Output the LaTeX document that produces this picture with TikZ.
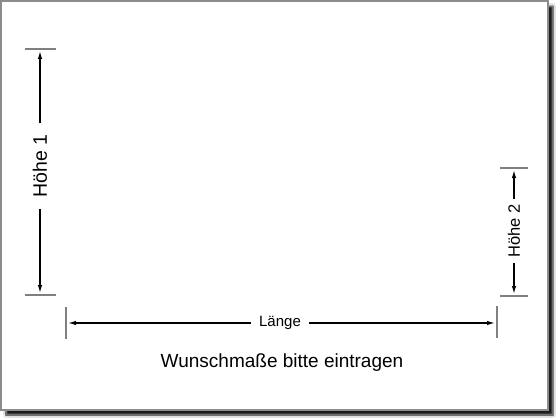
\documentclass[tikz,border=0pt]{standalone}
\usepackage{fontspec}
\setmainfont{Liberation Sans}
\usetikzlibrary{shadows.blur,arrows.meta}

\tikzset{
	tick/.style={gray, line width=1.1pt},
	dimline/.style={black, line width=1.3pt},
	dimlabel/.style={inner xsep=10pt, inner ysep=2pt}
}

\begin{document}
\begin{tikzpicture}[x=1pt, y=-1pt, >={Latex[length=8pt,width=4.5pt]}]
	\useasboundingbox (0,0) rectangle (560,420);
	\fill [white] (0,0) rectangle (560,420);
	% sheet with shadow
	\draw [gray!90, line width=1.3pt, fill=white,
		blur shadow={shadow xshift=5pt, shadow yshift=-5pt, shadow blur steps=6, shadow opacity=90}]
		(1,1) rectangle (548,410);

	% Hoehe 1
	\coordinate (h1top) at (40,49);
	\coordinate (h1bot) at (40,295);
	\coordinate (h1a) at (40,51);
	\coordinate (h1b) at (40,293);
	\node (h1) at (40,166) [rotate=90, dimlabel, inner xsep=11pt, font=\fontsize{19.5}{22}\selectfont] {Höhe 1};

	% Hoehe 2
	\coordinate (h2top) at (514,168);
	\coordinate (h2bot) at (514,296);
	\coordinate (h2a) at (514,170);
	\coordinate (h2b) at (514,294);
	\node (h2) at (514,231) [rotate=90, dimlabel, inner xsep=5pt, font=\fontsize{16.5}{19}\selectfont] {Höhe 2};

	% Laenge
	\coordinate (lleft) at (66,323);
	\coordinate (lright) at (497,323);
	\coordinate (la) at (68,323);
	\coordinate (lb) at (495,323);
	\node (len) at (280,323) [dimlabel, inner xsep=8pt, font=\fontsize{15}{18}\selectfont] {Länge};

	\node (note) at (282,363) [font=\fontsize{19}{23}\selectfont] {Wunschmaße bitte eintragen};

	\draw [tick] ([xshift=-15pt]h1top) -- ([xshift=16pt]h1top);
	\draw [tick] ([xshift=-15pt]h1bot) -- ([xshift=16pt]h1bot);
	\draw [tick] ([xshift=-14pt]h2top) -- ([xshift=14pt]h2top);
	\draw [tick] ([xshift=-14pt]h2bot) -- ([xshift=14pt]h2bot);
	\draw [tick] ([yshift=16pt]lleft) -- ([yshift=-16pt]lleft);
	\draw [tick] ([yshift=17pt]lright) -- ([yshift=-15pt]lright);

	\path [dimline, ->]	(h1)	edge	(h1a)
						edge	(h1b)
			(h2)	edge	(h2a)
					edge	(h2b)
			(len)	edge	(la)
					edge	(lb);
\end{tikzpicture}
\end{document}
